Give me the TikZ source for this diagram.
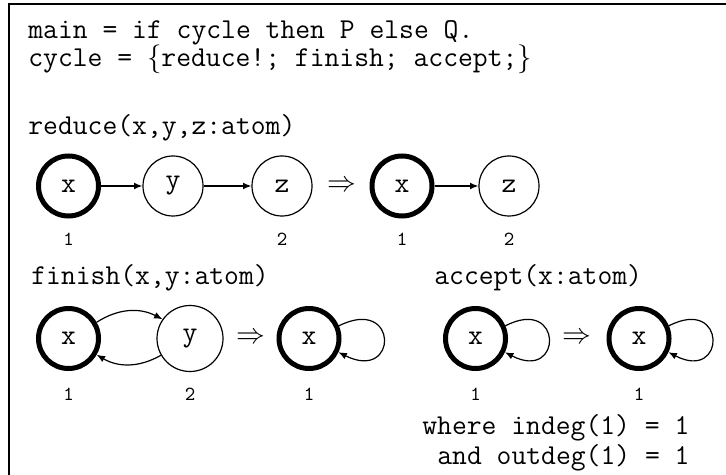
\documentclass[tikz,border=0pt]{standalone}
\usetikzlibrary{arrows.meta}
\begin{document}
\begin{tikzpicture}[x=0.5pt,y=0.5pt,
  every node/.style={font=\ttfamily\fontsize{14.4}{17}\selectfont},
  txt/.style={anchor=base west,inner sep=0pt},
  plainnode/.style={circle,draw,line width=0.6pt,minimum size=30pt,inner sep=0pt},
  rootnode/.style={circle,draw,line width=2.5pt,minimum size=30pt,inner sep=0pt},
  lbl/.style={anchor=base,inner sep=0pt,font=\ttfamily\fontsize{10}{12}\selectfont},
  edge/.style={line width=0.6pt,-{Latex[length=4.2pt,width=3.4pt]}},
  impl/.style={inner sep=0pt}
]
\useasboundingbox (0,0) rectangle (726,-475);
% frame (right and bottom sides lie outside the picture)
\coordinate (fbl) at (9,-475);
\coordinate (ftl) at (9,-4);
\coordinate (ftr) at (726,-4);
\draw[line width=0.6pt] (fbl) -- (ftl) -- (ftr);

% program text
\node[txt] (line1) at (28,-38.5) {main = if cycle then P else Q.};
\node[txt] (line2) at (28,-66.5) {cycle = $\{$reduce!; finish; accept;$\}$};

% reduce rule
\node[txt] (hred) at (28,-135) {reduce(x,y,z:atom)};
\node[rootnode] (rx) at (68.5,-186) {x};
\node[plainnode] (ry) at (173,-186) {y};
\node[plainnode] (rz) at (282,-186) {z};
\node[impl] (imp1) at (341.5,-186) {$\Rightarrow$};
\node[rootnode] (rx2) at (402,-186) {x};
\node[plainnode] (rz2) at (509,-186) {z};
\draw[edge] (rx) -- (ry);
\draw[edge] (ry) -- (rz);
\draw[edge] (rx2) -- (rz2);
\node[lbl] (lr1) at (68.5,-246) {1};
\node[lbl] (lr2) at (282,-246) {2};
\node[lbl] (lr3) at (402,-246) {1};
\node[lbl] (lr4) at (509,-246) {2};

% finish rule
\node[txt] (hfin) at (31,-284) {finish(x,y:atom)};
\node[rootnode] (fx) at (68.5,-338.5) {x};
\node[plainnode,minimum size=33pt] (fy) at (190,-338.5) {y};
\node[impl] (imp2) at (250.8,-338.5) {$\Rightarrow$};
\node[rootnode] (fx2) at (309,-338.5) {x};
\draw[edge] (fx.30) to[bend left=30] (fy.145);
\draw[edge] (fy.-150) to[bend left=30] (fx.-30);
\draw[edge] (fx2.23) .. controls +(60,30) and +(60,-30) .. (fx2.-25);
\node[lbl] (lf1) at (68.5,-400) {1};
\node[lbl] (lf2) at (190,-400) {2};
\node[lbl] (lf3) at (309,-400) {1};

% accept rule
\node[txt] (hacc) at (434,-284) {accept(x:atom)};
\node[rootnode] (ax) at (475.5,-338.5) {x};
\node[impl] (imp3) at (577,-338.5) {$\Rightarrow$};
\node[rootnode] (ax2) at (639,-338.5) {x};
\draw[edge] (ax.23) .. controls +(58,30) and +(58,-30) .. (ax.-25);
\draw[edge] (ax2.23) .. controls +(58,30) and +(58,-30) .. (ax2.-25);
\node[lbl] (la1) at (475.5,-400) {1};
\node[lbl] (la2) at (639,-400) {1};
\node[txt] (cond1) at (422,-434) {where indeg(1) = 1};
\node[txt] (cond2) at (437,-464) {and outdeg(1) = 1};
\end{tikzpicture}
\end{document}
